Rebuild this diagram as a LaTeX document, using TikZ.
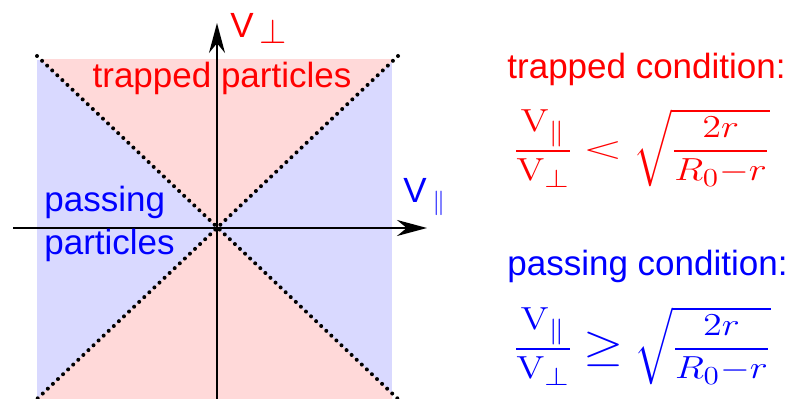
\RequirePackage{fix-cm}
\documentclass[tikz,border=0pt]{standalone}
\usepackage{amsmath}
\usepackage{amssymb}
\usepackage[no-math]{fontspec}
\usepackage{graphicx}
\usepackage{xcolor}
\usepackage{tikz}
\usetikzlibrary{arrows.meta, positioning}
\newfontfamily\labelfont{Liberation Sans}
\DeclareMathSizes{16}{16}{13}{10}
\definecolor{trapfill}{RGB}{255,217,217}
\definecolor{passfill}{RGB}{217,217,255}
\newcommand{\velratio}{\frac{\mathrm{V}_\parallel}{\mathrm{V}_\perp}}
\newcommand{\critratio}{\sqrt{\frac{2r}{R_0{-}r}}}
\newcommand{\widerel}[3]{\mathrel{\vcenter{\hbox{\scalebox{#1}[#2]{$#3$}}}}}
\tikzset{
    phasediagram/.style={x=0.5bp, y=-0.5bp, >={Stealth[length=15bp, width=8bp]}},
    velaxis/.style={->, line width=1bp},
    boundary/.style={line width=2bp, line cap=round, dash pattern=on 0pt off 3.5bp},
    sanslabel/.style={inner sep=0pt, font=\labelfont\fontsize{17.5bp}{21bp}\selectfont},
    trapped/.style={sanslabel, text=red},
    passing/.style={sanslabel, text=blue},
    % condition formulas: CM maths, stretched a little sideways
    formula/.style={inner sep=0pt, anchor=base west, font=\fontsize{16}{19}\selectfont},
}

\begin{document}
\begin{tikzpicture}[phasediagram]
    \useasboundingbox (0,0) rectangle (797,399);

    \coordinate (O)   at (217,228);
    \coordinate (tl)  at (37,60);
    \coordinate (br)  at (392,399);
    \coordinate (dtl) at (37,56);
    \coordinate (dtr) at (398,56);
    \coordinate (dbl) at (37,399);
    \coordinate (dbr) at (398,399);

    \fill[passfill] (tl) rectangle (br);
    \begin{scope}
        \clip (tl) rectangle (br);
        \fill[trapfill] (O) -- (dtl) -- (dtr) -- cycle;
        \fill[trapfill] (O) -- (dbl) -- (dbr) -- cycle;
    \end{scope}

    \draw[boundary] (dtl) -- (dbr);
    \draw[boundary] (dtr) -- (dbl);

    \coordinate (vbot)   at (217,399);
    \coordinate (vtop)   at (217,23);
    \coordinate (hleft)  at (13,228);
    \coordinate (hright) at (427,228);
    \draw[velaxis] (vbot) -- (vtop);
    \draw[velaxis] (hleft) -- (hright);

    \node[trapped, anchor=base west] (vperp) at (230,38) {V\hspace{3bp}\raisebox{-3bp}{$\perp$}};
    \node[passing, anchor=base west] (vpar)  at (403,203) {V\,$_\parallel$};

    \node[trapped, anchor=base] (traplbl) at (222,88) {trapped particles};
    \node[passing, anchor=base west] (passlbl1) at (44,212) {passing};
    \node[passing, below=21.5bp of passlbl1.base west, anchor=base west] (passlbl2) {particles};

    \node[trapped, anchor=base west] (trapcond) at (507,79) {trapped condition:};
    \node[formula, text=red] (trapeq) at (513,159)
        {\scalebox{1.2}[1]{$\displaystyle\velratio\widerel{1.35}{1}{<}\critratio$}};

    \node[passing, anchor=base west] (passcond) at (507,276) {passing condition:};
    \node[formula, text=blue] (passeq) at (513,357)
        {\scalebox{1.2}[1]{$\displaystyle\velratio\widerel{1.35}{1.4}{\geq}\critratio$}};
\end{tikzpicture}
\end{document}
